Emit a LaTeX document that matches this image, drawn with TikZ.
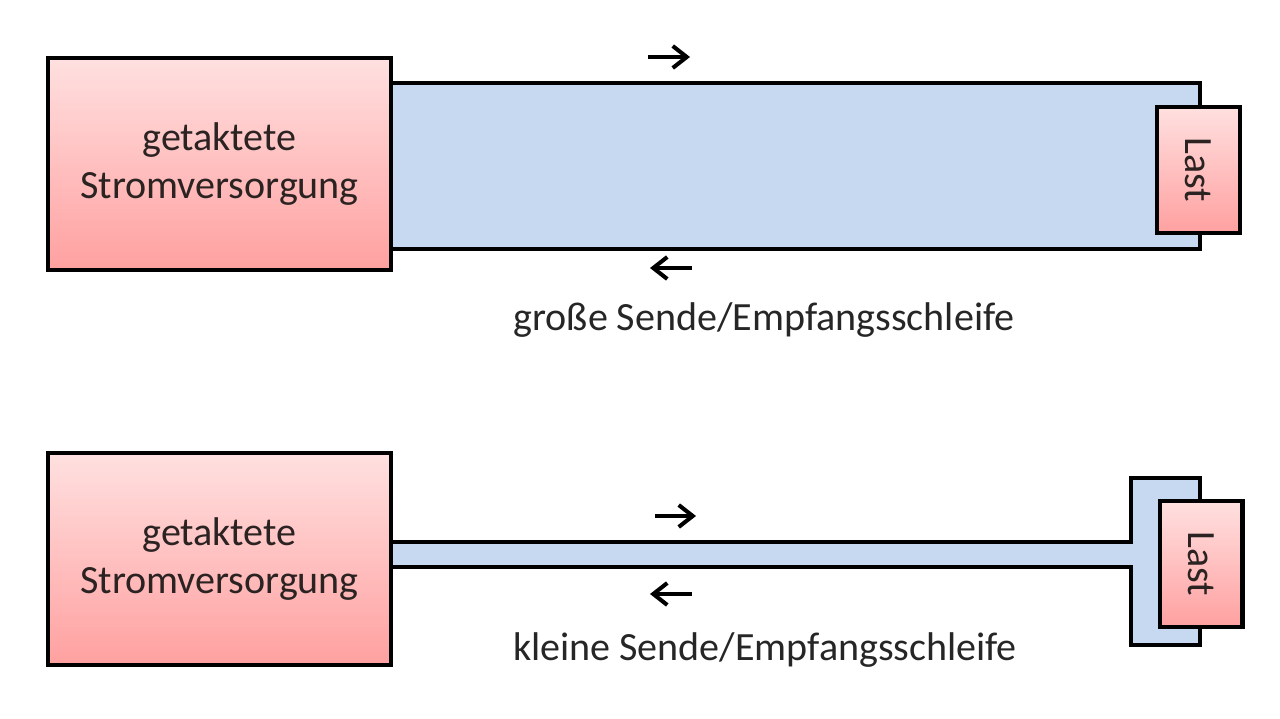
\documentclass[tikz,border=0pt]{standalone}
\usepackage{fontspec}
\setmainfont{Carlito}
\usetikzlibrary{arrows.meta,positioning}
\definecolor{loopblue}{HTML}{C6D9F0}
\definecolor{boxtop}{HTML}{FFE0E0}
\definecolor{boxbot}{HTML}{FFA0A0}
\definecolor{txtgray}{HTML}{2B2222}
\begin{document}
\begin{tikzpicture}[
    x=0.02cm,y=-0.02cm,
    font=\fontsize{22.8}{27}\selectfont,
    supply/.style={draw=black,line width=2.3pt,top color=boxtop,bottom color=boxbot,minimum width=6.86cm,minimum height=4.24cm,align=center,text=txtgray,inner sep=0pt},
    load/.style={draw=black,line width=2.3pt,top color=boxtop,bottom color=boxbot,minimum width=1.66cm,minimum height=2.52cm,inner sep=0pt,text=txtgray},
    loopfill/.style={draw=black,line width=2.3pt,fill=loopblue,line join=miter},
    dirarr/.style={-{Straight Barb[length=2.8mm,width=4.4mm]},line width=2.3pt,black},
    caption/.style={text=black!85,inner sep=0pt}
  ]
    \useasboundingbox (0,0) rectangle (1280,719);
    % grosse Schleife
    \draw[loopfill] (391,83) rectangle (1200,249);
    \node[supply] (psA) at (219.5,164) {getaktete\\Stromversorgung};
    \node[load] (lastA) at (1198.5,170) {\rotatebox{-90}{Last}};
    \coordinate (a1) at (648,57);
    \coordinate (a2) at (690,57);
    \coordinate (a3) at (692,268);
    \coordinate (a4) at (650,268);
    \draw[dirarr] (a1) -- (a2);
    \draw[dirarr] (a3) -- (a4);
    \node[caption] (capA) at (764,320) {große Sende/Empfangsschleife};
    % kleine Schleife
    \draw[loopfill] (391,542) -- (1131,542) -- (1131,478) -- (1200,478) -- (1200,645)
      -- (1131,645) -- (1131,567) -- (391,567);
    \node[supply] (psB) at (219.5,559) {getaktete\\Stromversorgung};
    \node[load] (lastB) at (1201,564) {\rotatebox{-90}{Last}};
    \coordinate (b1) at (655,516);
    \coordinate (b2) at (696,516);
    \coordinate (b3) at (692,594);
    \coordinate (b4) at (650,594);
    \draw[dirarr] (b1) -- (b2);
    \draw[dirarr] (b3) -- (b4);
    \node[caption] (capB) at (765,650) {kleine Sende/Empfangsschleife};
  \end{tikzpicture}
\end{document}
